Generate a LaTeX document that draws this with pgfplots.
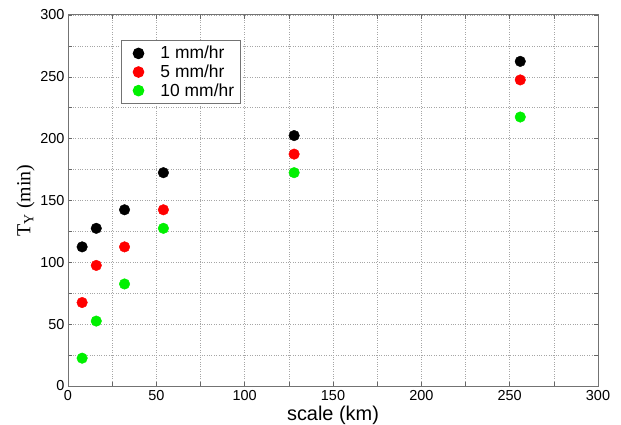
\documentclass[border=0pt]{standalone}
\usepackage{pgfplots}
\pgfplotsset{compat=1.18}
\usepackage{fontspec}
\setmainfont{Liberation Sans}
\newfontfamily\seriffont{Liberation Serif}
\definecolor{mygreen}{RGB}{0,240,0}
\definecolor{myred}{RGB}{255,0,0}
\begin{document}
\begin{tikzpicture}
\path[use as bounding box] (-68bp,-39bp) rectangle (553bp,386bp);
\begin{axis}[
  at={(0,0)}, anchor=south west,
  scale only axis, width=530bp, height=371bp,
  xmin=0, xmax=300, ymin=0, ymax=300,
  xtick={0,50,...,300}, ytick={0,50,...,300},
  minor xtick={25,75,...,275}, minor ytick={25,75,...,275},
  grid=both,
  major grid style={gray!70, dotted, line width=0.6pt},
  minor grid style={gray!70, dotted, line width=0.6pt},
  axis line style={gray!90!black, line width=1pt},
  tick align=inside,
  major tick length=4bp, minor tick length=4bp,
  tick style={gray!80!black, line width=0.6pt},
  /pgf/number format/assume math mode=true,
  tick label style={font=\fontsize{14.5}{14.5}\selectfont},
  xticklabel style={yshift=-1bp},
  xlabel={scale (km)},
  xlabel style={font=\fontsize{20}{20}\selectfont, yshift=2bp},
  ylabel={\seriffont T\textsubscript{Y} (min)},
  ylabel style={font=\fontsize{20}{20}\selectfont, yshift=-1bp},
  legend style={at={(0.1,0.933)}, anchor=north west, draw=gray!90!black, line width=1pt,
    font=\fontsize{17.5}{18.5}\selectfont, row sep=0.5bp, inner xsep=4bp, inner ysep=4bp,
    /tikz/every odd column/.append style={column sep=7bp}},
  legend cell align=left,
  legend image code/.code={\path[draw=none, fill=none] (-9bp,0) -- (17bp,0); \fill[#1] (4bp,0) circle (5.3bp);},
]
\addplot[only marks, mark=*, mark size=5.3bp, draw=black, fill=black] coordinates {
  (8,112.5) (16,127.5) (32,142.5) (54,172.5) (128,202.5) (256,262.5)};
\addlegendentry{1 mm/hr}
\addplot[only marks, mark=*, mark size=5.3bp, draw=myred, fill=myred] coordinates {
  (8,67.5) (16,97.5) (32,112.5) (54,142.5) (128,187.5) (256,247.5)};
\addlegendentry{5 mm/hr}
\addplot[only marks, mark=*, mark size=5.3bp, draw=mygreen, fill=mygreen] coordinates {
  (8,22.5) (16,52.5) (32,82.5) (54,127.5) (128,172.5) (256,217.5)};
\addlegendentry{10 mm/hr}
\end{axis}
\end{tikzpicture}
\end{document}
